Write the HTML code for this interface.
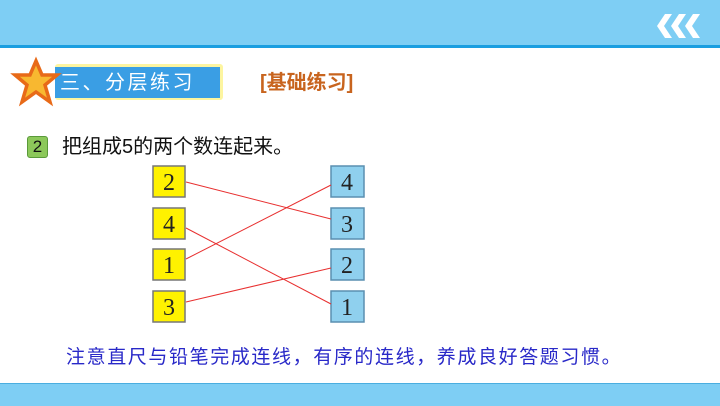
<!DOCTYPE html>
<html><head><meta charset="utf-8"><style>
body{margin:0;width:720px;height:405px;overflow:hidden;background:#fff;position:relative;font-family:"Liberation Sans","Noto Sans CJK SC",sans-serif}
div{position:absolute}
.t{white-space:nowrap}
</style></head><body>
<div style="left:0;top:0;width:720px;height:45px;background:#7ecef4;border-bottom:3px solid #1a9ee0"></div>
<svg style="position:absolute;left:655px;top:14px" width="56" height="24"><g fill="#fff">
<polygon points="10,0 17,0 9,12 17,24 10,24 2,12"/><polygon points="24,0 31,0 23,12 31,24 24,24 16,12"/><polygon points="38,0 45,0 37,12 45,24 38,24 30,12"/></g></svg>
<div style="left:55px;top:64px;width:168px;height:36px;background:#fdf5a0;border-radius:3px"></div>
<div style="left:55px;top:67px;width:165px;height:31px;background:#3a9ee4"></div>
<svg style="position:absolute;left:10px;top:56px" width="52" height="52"><polygon points="26,5 32,19 47,19 35,29 40,46 26,36 12,46 17,29 5,19 20,19" fill="#f8b830" stroke="#e86a18" stroke-width="3.5"/></svg>
<div class="t" style="left:60px;top:69px;font-size:20px;color:#fff;letter-spacing:2.5px;line-height:28px">三、分层练习</div>
<div class="t" style="left:260px;top:69px;font-size:20px;color:#c8641e;font-weight:bold;line-height:28px">[基础练习]</div>
<div style="left:27px;top:136px;width:19px;height:20px;background:#8cc85a;border:1px solid #5a9a3a;border-radius:3px;font-size:17px;line-height:20px;text-align:center;color:#111">2</div>
<div class="t" style="left:62px;top:134px;font-size:20px;color:#111;line-height:26px">把组成5的两个数连起来。</div>
<svg style="position:absolute;left:0;top:0" width="720" height="405" font-family="Liberation Serif" font-size="24" text-anchor="middle">
<g fill="#fff200" stroke="#777" stroke-width="1.5">
<rect x="153" y="166" width="32" height="31"/><rect x="153" y="208" width="32" height="31"/><rect x="153" y="249" width="32" height="31"/><rect x="153" y="291" width="32" height="31"/></g>
<g fill="#8fd0ee" stroke="#5a8fb0" stroke-width="1.5">
<rect x="331" y="166" width="33" height="31"/><rect x="331" y="208" width="33" height="31"/><rect x="331" y="249" width="33" height="31"/><rect x="331" y="291" width="33" height="31"/></g>
<g fill="#222"><text x="169" y="190">2</text><text x="169" y="232">4</text><text x="169" y="273">1</text><text x="169" y="315">3</text>
<text x="347" y="190">4</text><text x="347" y="232">3</text><text x="347" y="273">2</text><text x="347" y="315">1</text></g>
<g stroke="#e83030" stroke-width="1"><line x1="186" y1="182" x2="331" y2="219"/><line x1="186" y1="228" x2="331" y2="304"/><line x1="186" y1="259" x2="331" y2="185"/><line x1="186" y1="302" x2="331" y2="268"/></g>
</svg>
<div class="t" style="left:66px;top:345px;font-size:19px;color:#2828c8;letter-spacing:1.6px;line-height:26px">注意直尺与铅笔完成连线，有序的连线，养成良好答题习惯。</div>
<div style="left:0;top:383px;width:720px;height:22px;background:#7ecef4;border-top:1px solid #4aaee0"></div>
</body></html>
